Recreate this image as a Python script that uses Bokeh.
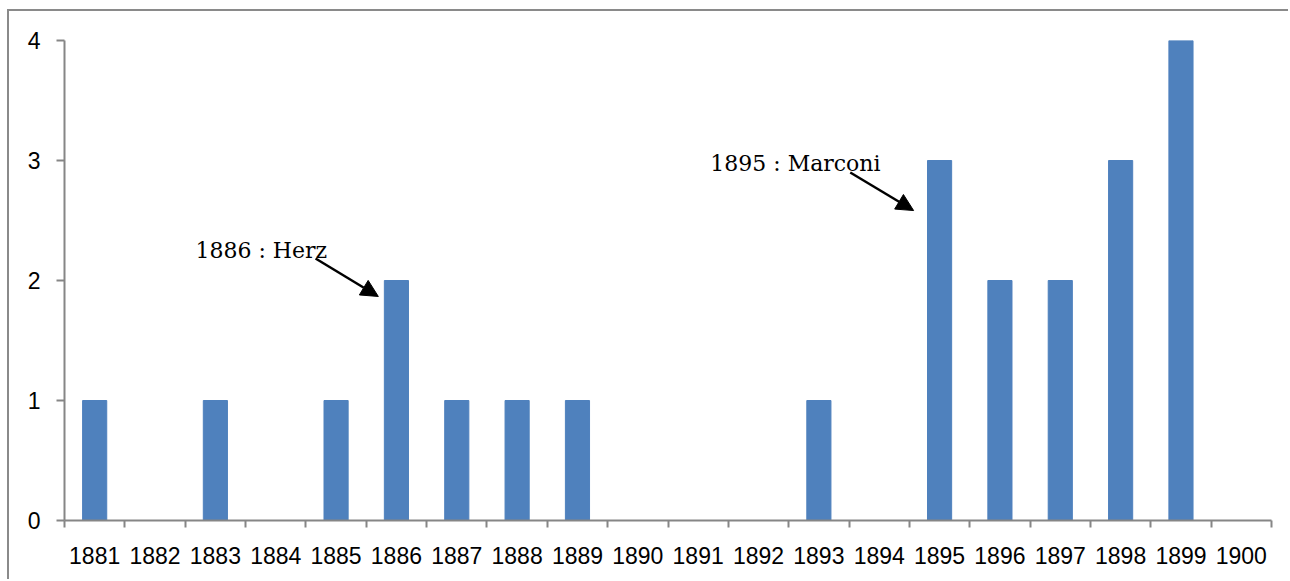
from bokeh.plotting import figure
from bokeh.models import Range1d, FixedTicker, Label, Arrow, NormalHead
from bokeh.embed import file_html
from bokeh.resources import INLINE

years = [str(y) for y in range(1881, 1901)]
counts = [1, 0, 1, 0, 1, 2, 1, 1, 1, 0, 0, 0, 1, 0, 3, 2, 2, 3, 4, 0]
y_ticks = [0, 1, 2, 3, 4]

AXIS = "#868686"
BAR = "#4F81BD"
TICK_FONT = "Liberation Sans"

p = figure(width=1281, height=570, output_backend="svg", toolbar_location=None,
           x_range=Range1d(0, len(years)), y_range=Range1d(0, 4),
           min_border_left=55, min_border_right=19, min_border_top=29, min_border_bottom=61)
p.outline_line_color = None
p.xgrid.grid_line_color = None
p.ygrid.grid_line_color = None
p.styles = {"border-top": "2px solid #8a8a8a", "border-left": "2px solid #8a8a8a",
            "margin-top": "9px", "margin-left": "7px"}

xs = [i + 0.5 for i in range(len(years))]
p.vbar(x=xs, top=counts, width=0.4, bottom=0, fill_color=BAR, line_color=BAR)

xa = p.xaxis[0]
xa.ticker = FixedTicker(ticks=xs, minor_ticks=list(range(len(years) + 1)))
xa.major_label_overrides = {x: y for x, y in zip(xs, years)}
xa.major_tick_out = 0
xa.major_tick_in = 0
xa.minor_tick_out = 7
xa.minor_tick_in = 0
xa.minor_tick_line_color = AXIS
xa.minor_tick_line_width = 2
xa.axis_line_color = AXIS
xa.axis_line_width = 2
xa.major_label_standoff = 19
xa.major_label_text_font = TICK_FONT
xa.major_label_text_font_size = "23px"
xa.major_label_text_color = "black"

ya = p.yaxis[0]
ya.ticker = FixedTicker(ticks=y_ticks, minor_ticks=[])
ya.major_tick_out = 8
ya.major_tick_in = 0
ya.major_tick_line_color = AXIS
ya.major_tick_line_width = 2
ya.axis_line_color = AXIS
ya.axis_line_width = 2
ya.major_label_standoff = 16
ya.major_label_text_font = TICK_FONT
ya.major_label_text_font_size = "23px"
ya.major_label_text_color = "black"

for txt, lx, ly, x0, y0, x1, y1 in [
    ("1886 : Herz", 2.17, 2.25, 4.16, 2.183, 5.20, 1.867),
    ("1895 : Marconi", 10.70, 2.975, 13.02, 2.90, 14.07, 2.583),
]:
    p.add_layout(Label(x=lx, y=ly, text=txt, text_font="DejaVu Serif",
                       text_font_size="22px", text_color="black",
                       text_baseline="alphabetic", text_align="left"))
    p.add_layout(Arrow(x_start=x0, y_start=y0, x_end=x1, y_end=y1,
                       line_color="black", line_width=2.5,
                       end=NormalHead(size=17, fill_color="black", line_color="black")))

open("out.html", "w").write(file_html(p, INLINE))
